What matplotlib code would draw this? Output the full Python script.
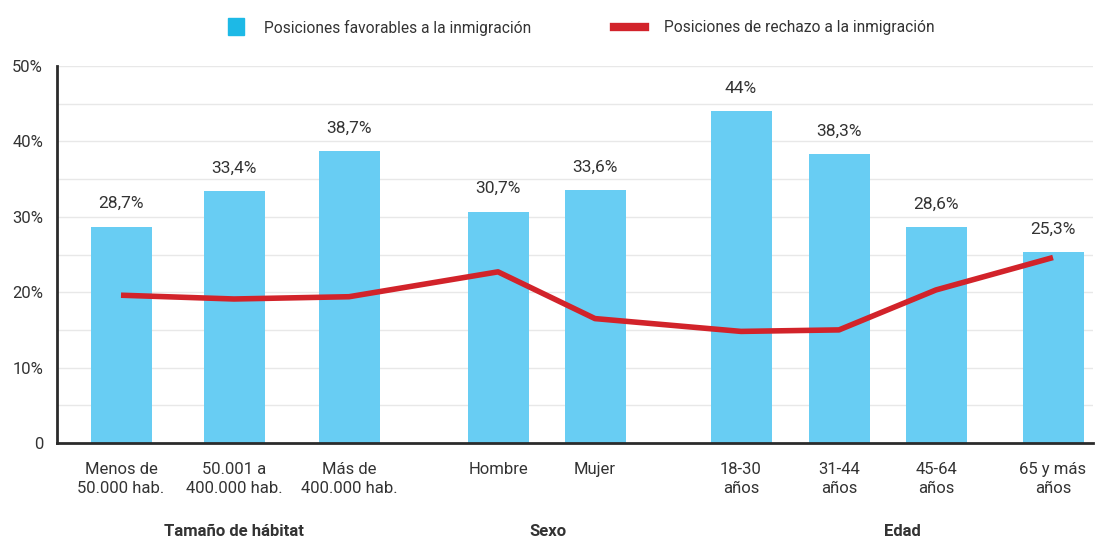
import matplotlib.pyplot as plt
from matplotlib.patches import Rectangle
from matplotlib.lines import Line2D

plt.rcParams['font.family'] = ['Roboto', 'DejaVu Sans']

categorias = ['Menos de\n50.000 hab.', '50.001 a\n400.000 hab.', 'Más de\n400.000 hab.',
              'Hombre', 'Mujer',
              '18-30\naños', '31-44\naños', '45-64\naños', '65 y más\naños']
favorables = [28.7, 33.4, 38.7, 30.7, 33.6, 44.0, 38.3, 28.6, 25.3]
etiquetas = ['28,7%', '33,4%', '38,7%', '30,7%', '33,6%', '44%', '38,3%', '28,6%', '25,3%']
rechazo = [19.6, 19.1, 19.4, 22.7, 16.5, 14.8, 15.0, 20.3, 24.6]
grupos = ['Tamaño de hábitat', 'Sexo', 'Edad']
leyenda = ['Posiciones favorables a la inmigración',
           'Posiciones de rechazo a la inmigración']

# posiciones horizontales (irregulares, como en el original)
xpos = [121, 234, 349, 498, 595, 741, 839, 936, 1053]
grupo_x = [234, 548, 902]

azul = '#68CDF3'
azul_ley = '#1DB9E6'
rojo = '#D2232A'
gris = '#333333'

W, H = 1095, 539
fig = plt.figure(figsize=(W / 100, H / 100), dpi=100)
ax = fig.add_axes([57 / W, 1 - 443 / H, 1036 / W, 377 / H])

ax.bar(xpos, favorables, width=61, color=azul, zorder=2)
ax.plot(xpos, rechazo, color=rojo, lw=4, zorder=3, solid_capstyle='butt')

for x, v, t in zip(xpos, favorables, etiquetas):
    ax.annotate(t, (x, v), xytext=(0, 11), textcoords='offset points',
                ha='center', va='bottom', fontsize=12.5, color=gris)

ax.set_xlim(57, 1093)
ax.set_ylim(0, 50)
ax.set_yticks([0, 10, 20, 30, 40, 50])
ax.set_yticklabels(['0', '10%', '20%', '30%', '40%', '50%'], fontsize=12, color=gris)
for y in range(5, 51, 5):
    ax.axhline(y, color='#E8E8E8', lw=1, zorder=0)

ax.set_xticks(xpos)
ax.set_xticklabels(categorias, fontsize=12, color=gris, linespacing=1.3)
ax.tick_params(axis='both', length=0)
ax.tick_params(axis='x', pad=14)
ax.tick_params(axis='y', pad=10)

for s in ['top', 'right']:
    ax.spines[s].set_visible(False)
for s in ['left', 'bottom']:
    ax.spines[s].set_color('#2b2b2b')
    ax.spines[s].set_linewidth(2)

for gx, g in zip(grupo_x, grupos):
    ax.annotate(g, (gx, 0), xycoords=('data', 'axes fraction'), xytext=(0, -64),
                textcoords='offset points', ha='center', va='center',
                fontsize=12, fontweight='bold', color=gris)

# leyenda manual en coordenadas de figura
fig.patches.append(Rectangle((228 / W, 1 - 35 / H), 16 / W, 17 / H,
                             transform=fig.transFigure, color=azul_ley))
fig.text(264 / W, 1 - 27.5 / H, leyenda[0], fontsize=11.2, color=gris, va='center')
fig.lines.append(Line2D([614 / W, 645 / W], [1 - 27 / H, 1 - 27 / H],
                        transform=fig.transFigure, color=rojo, lw=6))
fig.text(664 / W, 1 - 27.5 / H, leyenda[1], fontsize=11.2, color=gris, va='center')

fig.savefig('out.png', dpi=100)
